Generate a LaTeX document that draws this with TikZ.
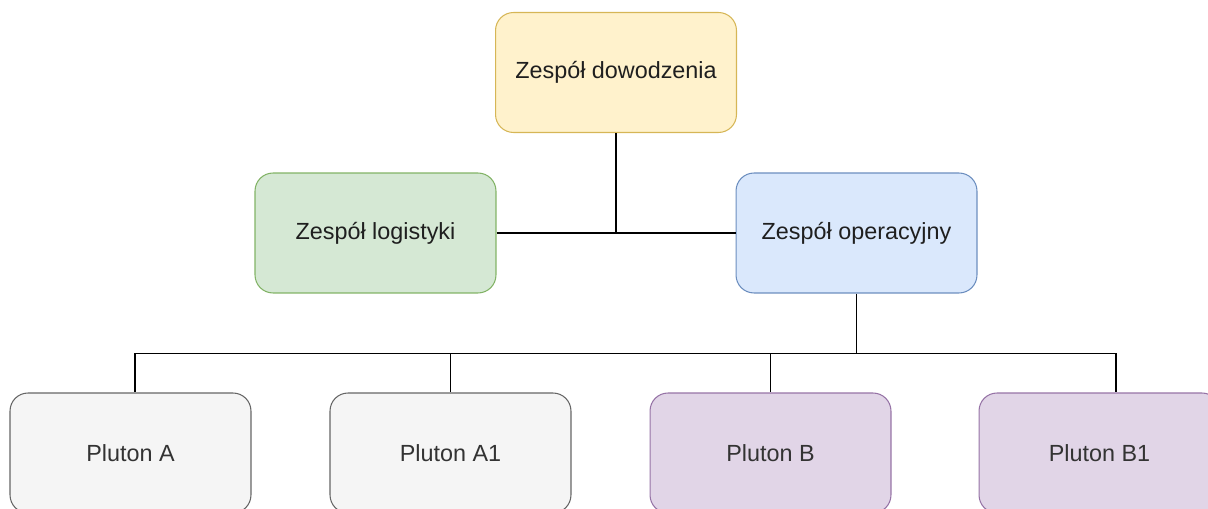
\documentclass[tikz,border=0pt]{standalone}
\usepackage{fontspec}
\setmainfont{Liberation Sans}
\usepackage{tikz}
\usetikzlibrary{positioning}
\tikzset{>=latex}

\definecolor{dowFill}{HTML}{FFF2CC}
\definecolor{dowLine}{HTML}{D6B656}
\definecolor{logFill}{HTML}{D5E8D4}
\definecolor{logLine}{HTML}{82B366}
\definecolor{opeFill}{HTML}{DAE8FC}
\definecolor{opeLine}{HTML}{6C8EBF}
\definecolor{plaFill}{HTML}{F5F5F5}
\definecolor{plaLine}{HTML}{666666}
\definecolor{plbFill}{HTML}{E1D5E7}
\definecolor{plbLine}{HTML}{9673A6}

\tikzset{
  unit/.style={draw, rounded corners=0.36cm, minimum width=4.82cm, minimum height=2.4cm,
    line width=0.6pt, font=\fontsize{13.3}{16}\selectfont, text=black!88},
  link/.style={draw=black, line width=0.75pt}
}

\begin{document}
\begin{tikzpicture}[x=0.02cm, y=-0.02cm]

\path[use as bounding box, clip] (0,0) rectangle (1208,509);

\node[unit, fill=dowFill, draw=dowLine] (dow) at (616,72.5) {Zespół dowodzenia};

\node[unit, fill=logFill, draw=logLine] (log) at (375.5,233) {Zespół logistyki};

\node[unit, fill=opeFill, draw=opeLine] (ope) at (856.5,233) {Zespół operacyjny};

\node[unit, fill=plaFill, draw=plaLine, text=black!80] (plA) at (130.5,453) {Pluton A};

\node[unit, fill=plaFill, draw=plaLine, text=black!80] (plAa) at (450.5,453) {Pluton A1};

\node[unit, fill=plbFill, draw=plbLine, text=black!80] (plB) at (770.5,453) {Pluton B};

\node[unit, fill=plbFill, draw=plbLine, text=black!80] (plBb) at (1099.5,453) {Pluton B1};

\draw[link] (log.east) -- (ope.west);

\draw[link] (dow.south) -- (dow.south |- log.east);

\draw[link] (ope.south) -- ++(0,60) coordinate (hub);

\draw[link] (hub) -| ([xshift=0.09cm]plA.north);

\draw[link] (hub) -| (plAa.north);

\draw[link] (hub) -| (plB.north);

\draw[link] (hub) -| ([xshift=0.33cm]plBb.north);

\end{tikzpicture}
\end{document}
